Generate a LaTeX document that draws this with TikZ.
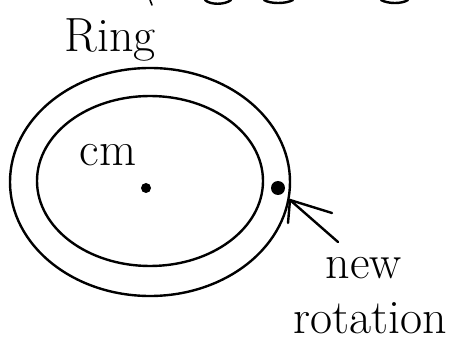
\documentclass[tikz,border=0pt]{standalone}
\usetikzlibrary{arrows.meta}
\begin{document}
\begin{tikzpicture}[x=1pt,y=-1pt,line width=2.4pt,line cap=round,
    texte/.style={font=\fontsize{48}{48}\selectfont, inner sep=0pt},
    point/.style={circle, fill, inner sep=0pt}]
    \useasboundingbox (0,0) rectangle (453,342);

    % Traits coupés en haut
    \draw[line width=1.6pt] (150,0) -- (152,5);
    \draw (205,0) .. controls (210,5) and (225,5) .. (231,0);
    \draw (264,0) .. controls (270,4) and (286,4) .. (293,0);
    \draw (381,0) .. controls (388,4) and (402,4) .. (408,0);

    % Anneau
    \draw (150,182) ellipse [x radius=140, y radius=114];
    \draw (150,181) ellipse [x radius=113, y radius=85];

    % Points
    \node[point, minimum size=10pt] (cm) at (146,188) {};
    \node[point, minimum size=14pt] (axe) at (278,188) {};

    % Textes
    \node[texte] (ring) at (110,40) {Ring};
    \node[texte] (lblcm) at (108,155) {cm};
    \node[texte] (new) at (364,268) {new};
    \node[texte] (rot) at (370,318) {rotation};

    % Flèche
    \coordinate (pointe) at (290,200);
    \coordinate (queue) at (338,242);
    \draw (queue) -- (pointe);
    \draw (pointe) -- (332,213);
    \draw (pointe) -- (288,223);
\end{tikzpicture}
\end{document}
